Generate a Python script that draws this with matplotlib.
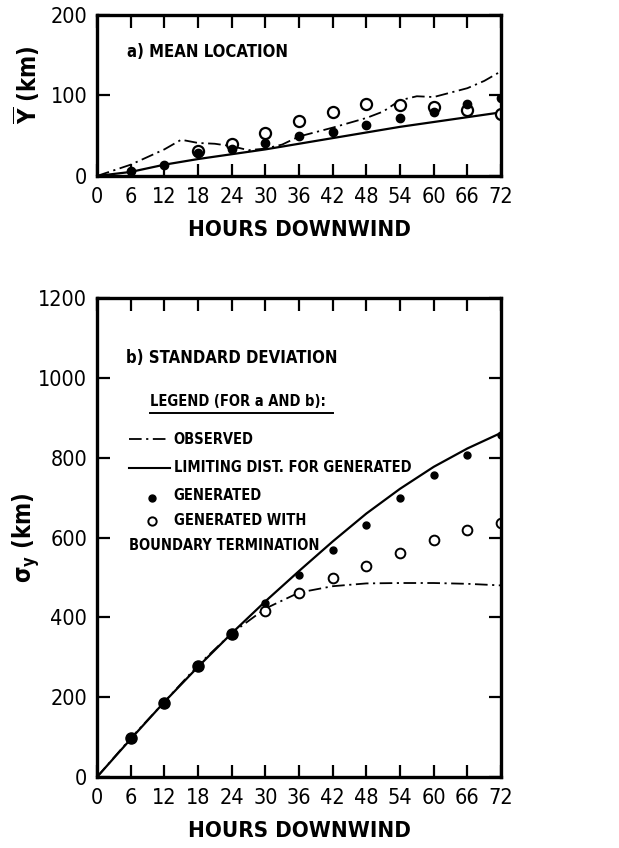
import numpy as np
import matplotlib
matplotlib.use("Agg")
import matplotlib.pyplot as plt
from matplotlib.lines import Line2D

plt.rcParams['font.family'] = ['DejaVu Sans']
plt.rcParams['font.stretch'] = 'condensed'

# ---- data ----
hours = [0, 6, 12, 18, 24, 30, 36, 42, 48, 54, 60, 66, 72]

# a) mean location (km)
obs_a_hours = [0, 6, 12, 15, 18, 21, 24, 27, 30, 33, 36, 42, 48, 51, 54, 57, 60, 66, 69, 72]
obs_a = [0, 14, 33, 45, 41, 40, 37, 32, 34, 39, 49, 60, 72, 80, 94, 99, 98, 109, 118, 130]
lim_a = [0, 5, 14, 21, 27, 33, 40, 47, 54, 61, 67, 73, 79]
gen_a_hours = [6, 12, 18, 24, 30, 36, 42, 48, 54, 60, 66, 72]
gen_a = [6, 14, 28, 34, 41, 50, 54, 63, 72, 80, 89, 97]
bnd_a_hours = [18, 24, 30, 36, 42, 48, 54, 60, 66, 72]
bnd_a = [31, 40, 53, 68, 80, 89, 88, 86, 82, 77]

# b) standard deviation (km)
obs_b = [0, 97, 188, 280, 360, 422, 462, 478, 485, 486, 486, 484, 480]
lim_b = [0, 95, 188, 276, 360, 440, 516, 590, 660, 722, 777, 823, 862]
gen_b_hours = [6, 12, 18, 24, 30, 36, 42, 48, 54, 60, 66, 72]
gen_b = [97, 185, 278, 358, 435, 506, 569, 631, 698, 756, 807, 858]
bnd_b_hours = [30, 36, 42, 48, 54, 60, 66, 72]
bnd_b = [417, 462, 498, 529, 562, 594, 619, 636]

xticks = hours
DASHDOT = (0, (7, 2.5, 1.2, 2.5))

fig = plt.figure(figsize=(6.19, 8.48), dpi=100)
ax1 = fig.add_axes([0.1567, 0.7925, 0.6527, 0.1899])
ax2 = fig.add_axes([0.1567, 0.0837, 0.6527, 0.5649])


def style(ax, ymax, ystep):
    ax.set_xlim(0, 72)
    ax.set_ylim(0, ymax)
    ax.set_xticks(xticks)
    ax.set_xticklabels([str(h) for h in xticks])
    ax.set_yticks(np.arange(0, ymax + 1, ystep))
    ax.tick_params(direction='in', length=9, width=1.6, top=True, right=True,
                   labelsize=15.5, pad=7)
    ax.tick_params(axis='x', pad=8)
    for s in ax.spines.values():
        s.set_linewidth(2.4)
    ax.set_xlabel('HOURS DOWNWIND', fontsize=16, fontweight='bold', labelpad=9)


def note(ax, x, y, s, size, **kw):
    ax.text(x, y, s, transform=ax.transAxes, fontsize=size, fontweight='bold',
            **kw)


# ---- panel a ----
ax1.plot(obs_a_hours, obs_a, color='black', lw=1.3, linestyle=DASHDOT)
ax1.plot(hours, lim_a, color='black', lw=1.6)
ax1.plot(bnd_a_hours, bnd_a, 'o', mfc='white', mec='black', mew=1.6, ms=8)
ax1.plot(gen_a_hours, gen_a, 'o', color='black', ms=6)
style(ax1, 200, 100)
ax1.set_ylabel(r'$\overline{\mathbf{Y}}$ (km)', fontsize=17, fontweight='bold')
ax1.yaxis.set_label_coords(-0.135, 0.57)
note(ax1, 0.075, 0.74, 'a) MEAN LOCATION', 12)

# ---- panel b ----
ax2.plot(hours, obs_b, color='black', lw=1.3, linestyle=DASHDOT)
ax2.plot(hours, lim_b, color='black', lw=1.6)
ax2.plot(bnd_b_hours, bnd_b, 'o', mfc='white', mec='black', mew=1.4, ms=7)
ax2.plot(gen_b_hours[:4], gen_b[:4], 'o', color='black', ms=8)
ax2.plot(gen_b_hours[4:], gen_b[4:], 'o', color='black', ms=5)
style(ax2, 1200, 200)
ax2.set_ylabel(r'$\mathbf{\sigma_y}$ (km)', fontsize=17, fontweight='bold')
ax2.yaxis.set_label_coords(-0.135, 0.5)
note(ax2, 0.072, 0.865, 'b) STANDARD DEVIATION', 12)

# hand-drawn style legend inside panel b
note(ax2, 0.13, 0.775, 'LEGEND (FOR a AND b):', 10.5)
ax2.add_line(Line2D([0.13, 0.585], [0.76, 0.76], transform=ax2.transAxes,
                    color='black', lw=1.4))
rows = [0.705, 0.646, 0.588, 0.535]
ax2.add_line(Line2D([0.08, 0.18], [rows[0], rows[0]], transform=ax2.transAxes,
                    color='black', lw=1.3, linestyle=DASHDOT))
note(ax2, 0.19, rows[0], 'OBSERVED', 10.5, va='center')
ax2.add_line(Line2D([0.08, 0.18], [rows[1], rows[1]], transform=ax2.transAxes,
                    color='black', lw=1.5))
note(ax2, 0.19, rows[1], 'LIMITING DIST. FOR GENERATED', 10.5, va='center')
ax2.plot([0.135], [rows[2] - 0.006], 'o', color='black', ms=5,
         transform=ax2.transAxes, clip_on=False)
note(ax2, 0.19, rows[2], 'GENERATED', 10.5, va='center')
ax2.plot([0.135], [rows[3]], 'o', mfc='white', mec='black', mew=1.4, ms=6,
         transform=ax2.transAxes, clip_on=False)
note(ax2, 0.19, rows[3], 'GENERATED WITH', 10.5, va='center')
note(ax2, 0.08, 0.483, 'BOUNDARY TERMINATION', 10.5, va='center')

fig.savefig('out.png', dpi=100)
